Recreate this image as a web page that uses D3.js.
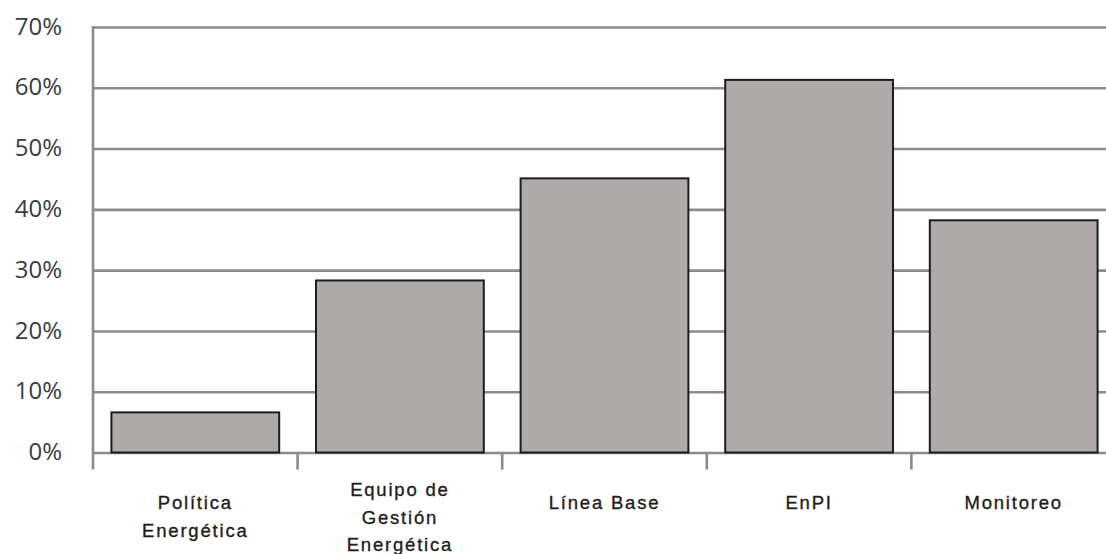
<!DOCTYPE html>
<html>
<head>
<meta charset="utf-8">
<script src="https://cdn.jsdelivr.net/npm/d3@7"></script>
<style>
  html, body { margin: 0; padding: 0; background: #fff; }
  svg { display: block; }
</style>
</head>
<body>
<svg id="chart" width="1106" height="554"></svg>
<script>
// Categories (x axis), one label line per array entry
const categories = ["Política Energética", "Equipo de Gestión Energética", "Línea Base", "EnPI", "Monitoreo"];
const labelLines = [
  ["Política", "Energética"],
  ["Equipo de", "Gestión", "Energética"],
  ["Línea Base"],
  ["EnPI"],
  ["Monitoreo"]
];
// Share of respondents per item
const values = [0.066, 0.283, 0.451, 0.613, 0.382];
// Y tick values (0% .. 70%)
const yTicks = [0, 0.1, 0.2, 0.3, 0.4, 0.5, 0.6, 0.7];

const svg = d3.select("#chart");
const plotLeft = 93, plotRight = 1116, plotTop = 27, plotBottom = 452.5;

const x = d3.scaleBand()
  .domain(categories)
  .range([plotLeft, plotRight])
  .paddingInner(0.18)
  .paddingOuter(0.09);

const y = d3.scaleLinear().domain([0, 0.7]).range([plotBottom, plotTop]);

const gridColor = "#8b8b8b";

// Horizontal gridlines + percent labels
const yAxis = svg.append("g")
  .attr("transform", `translate(${plotLeft},0)`)
  .call(d3.axisLeft(y)
    .tickValues(yTicks)
    .tickSize(-(plotRight - plotLeft))
    .tickPadding(31)
    .tickFormat(d3.format(".0%")));
yAxis.select(".domain").remove();
yAxis.selectAll(".tick line")
  .attr("stroke", gridColor)
  .attr("stroke-width", 2.6);
yAxis.selectAll(".tick text")
  .attr("fill", "#383c44")
  .attr("font-family", "'Open Sans', sans-serif")
  .attr("font-size", 24)
  .attr("dy", "0.3em");

// Vertical axis line
svg.append("line")
  .attr("x1", plotLeft).attr("x2", plotLeft)
  .attr("y1", plotTop - 1).attr("y2", plotBottom + 17)
  .attr("stroke", gridColor)
  .attr("stroke-width", 2.6);

// Category boundary ticks below the baseline
const boundaries = categories.map(c => x(c) - x.step() * x.paddingInner() / 2).slice(1);
svg.append("g").selectAll("line")
  .data(boundaries)
  .join("line")
  .attr("x1", d => d).attr("x2", d => d)
  .attr("y1", plotBottom).attr("y2", plotBottom + 17)
  .attr("stroke", gridColor)
  .attr("stroke-width", 2.6);

// Bars
svg.append("g").selectAll("rect")
  .data(values)
  .join("rect")
  .attr("x", (d, i) => x(categories[i]))
  .attr("width", x.bandwidth())
  .attr("y", d => y(d))
  .attr("height", d => y(0) - y(d))
  .attr("fill", "#aeaaa9")
  .attr("stroke", "#1c1c1c")
  .attr("stroke-width", 2);

// Category labels
const labels = svg.append("g").selectAll("text")
  .data(categories)
  .join("text")
  .attr("text-anchor", "middle")
  .attr("font-family", "'Liberation Sans', Arial, sans-serif")
  .attr("font-size", 18.5)
  .attr("letter-spacing", "1.8px")
  .attr("stroke", "#1e1e1e")
  .attr("stroke-width", 0.35)
  .attr("fill", "#1e1e1e")
  .attr("transform", c => `translate(${x(c) + x.bandwidth() / 2},0)`);

labels.each(function (c, i) {
  const lines = labelLines[i];
  const firstY = lines.length > 2 ? 490 : 503;
  d3.select(this).selectAll("tspan")
    .data(lines)
    .join("tspan")
    .attr("x", 0)
    .attr("y", (t, k) => firstY + k * 27.5)
    .attr("dy", "0.35em")
    .text(t => t);
});
</script>
</body>
</html>
